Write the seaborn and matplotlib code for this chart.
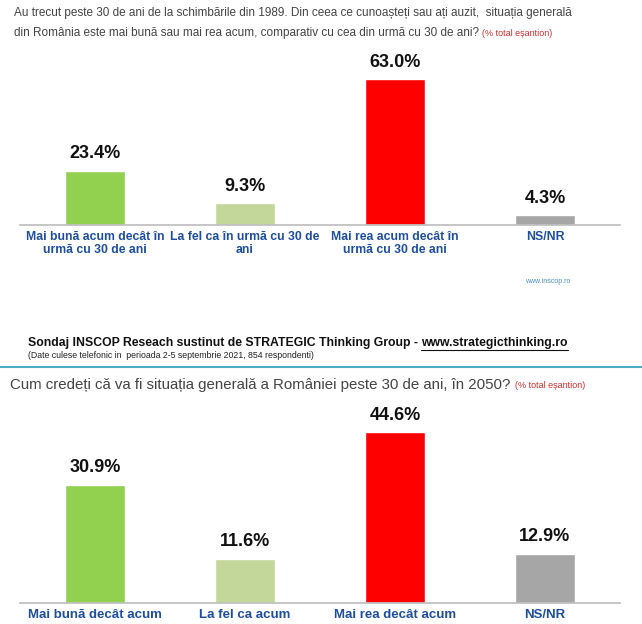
import matplotlib
matplotlib.use("Agg")
import matplotlib.pyplot as plt
import seaborn as sns
import pandas as pd

top_cats = ["Mai bună acum decât în\nurmă cu 30 de ani", "La fel ca în urmă cu 30 de\nani",
            "Mai rea acum decât în\nurmă cu 30 de ani", "NS/NR"]
top_vals = [23.4, 9.3, 63.0, 4.3]
bot_cats = ["Mai bună decât acum", "La fel ca acum", "Mai rea decât acum", "NS/NR"]
bot_vals = [30.9, 11.6, 44.6, 12.9]
colors = ["#92d050", "#c4d79b", "#ff0000", "#a6a6a6"]

sns.set_theme(style="white")
plt.rcParams['font.family'] = ['Liberation Sans', 'DejaVu Sans']
W, H = 642, 624
fig = plt.figure(figsize=(W/100, H/100), dpi=100)

def panel(cats, vals, base_px, pxu, ymax, fs):
    hpx = pxu*ymax
    ax = fig.add_axes([20/W, 1-base_px/H, 600/W, hpx/H])
    df = pd.DataFrame({"c": cats, "v": vals})
    sns.barplot(data=df, x="c", y="v", hue="c", palette=colors, legend=False, width=0.4, ax=ax, saturation=1)
    ax.set_ylim(0, ymax); ax.set_xlim(-0.5, 3.5)
    for i, v in enumerate(vals):
        ax.annotate(f"{v:.1f}%", (i, v), xytext=(0, 6), textcoords="offset points",
                    ha="center", va="bottom", fontsize=13, fontweight="bold", color="#111")
    ax.set_xlabel(""); ax.set_ylabel(""); ax.set_yticks([])
    ax.set_xticks(range(4)); ax.set_xticklabels(cats, color="#1f4e9a", fontweight="bold", fontsize=fs, linespacing=1.15)
    ax.tick_params(axis="x", length=0, pad=4)
    for s in ["top", "right", "left"]:
        ax.spines[s].set_visible(False)
    ax.spines["bottom"].set_color("#bfbfbf")
    ax.patch.set_alpha(0)
    return ax

panel(top_cats, top_vals, 225, 2.32, 70, 8.8)
panel(bot_cats, bot_vals, 603, 3.83, 50, 9.5)

r = fig.canvas.get_renderer()
def after(t, gap=3):
    bb = t.get_window_extent(r)
    return (bb.x1 + gap) / W

fig.text(14/W, 1-13/H, "Au trecut peste 30 de ani de la schimbările din 1989. Din ceea ce cunoașteți sau ați auzit,  situația generală",
         fontsize=8.5, color="#444", va="center")
t = fig.text(14/W, 1-33/H, "din România este mai bună sau mai rea acum, comparativ cu cea din urmă cu 30 de ani?", fontsize=8.5, color="#444", va="center")
fig.text(after(t), 1-33/H, "(% total eșantion)", fontsize=6.5, color="#d03030", va="center")
fig.text(525/W, 1-282/H, "www.inscop.ro", fontsize=5, color="#4a90c0", va="center")
t = fig.text(28/W, 1-343/H, "Sondaj INSCOP Reseach sustinut de STRATEGIC Thinking Group - ", fontsize=8.8, fontweight="bold", color="#111", va="center")
x0 = after(t, 0)
t2 = fig.text(x0, 1-343/H, "www.strategicthinking.ro", fontsize=8.8, fontweight="bold", color="#111", va="center")
x1 = after(t2, 0)
fig.add_artist(plt.Line2D([x0, x1], [1-350/H, 1-350/H], color="#111", lw=0.8))
fig.text(28/W, 1-355/H, "(Date culese telefonic in  perioada 2-5 septembrie 2021, 854 respondenti)", fontsize=6.3, color="#222", va="center")
fig.add_artist(plt.Line2D([0, 1], [1-367/H, 1-367/H], color="#4bacc6", lw=1.5))
t = fig.text(10/W, 1-385/H, "Cum credeți că va fi situația generală a României peste 30 de ani, în 2050?", fontsize=10.8, color="#444", va="center")
fig.text(after(t, 5), 1-386/H, "(% total eșantion)", fontsize=6.5, color="#d03030", va="center")
fig.savefig("out.png", dpi=100, facecolor="white")
